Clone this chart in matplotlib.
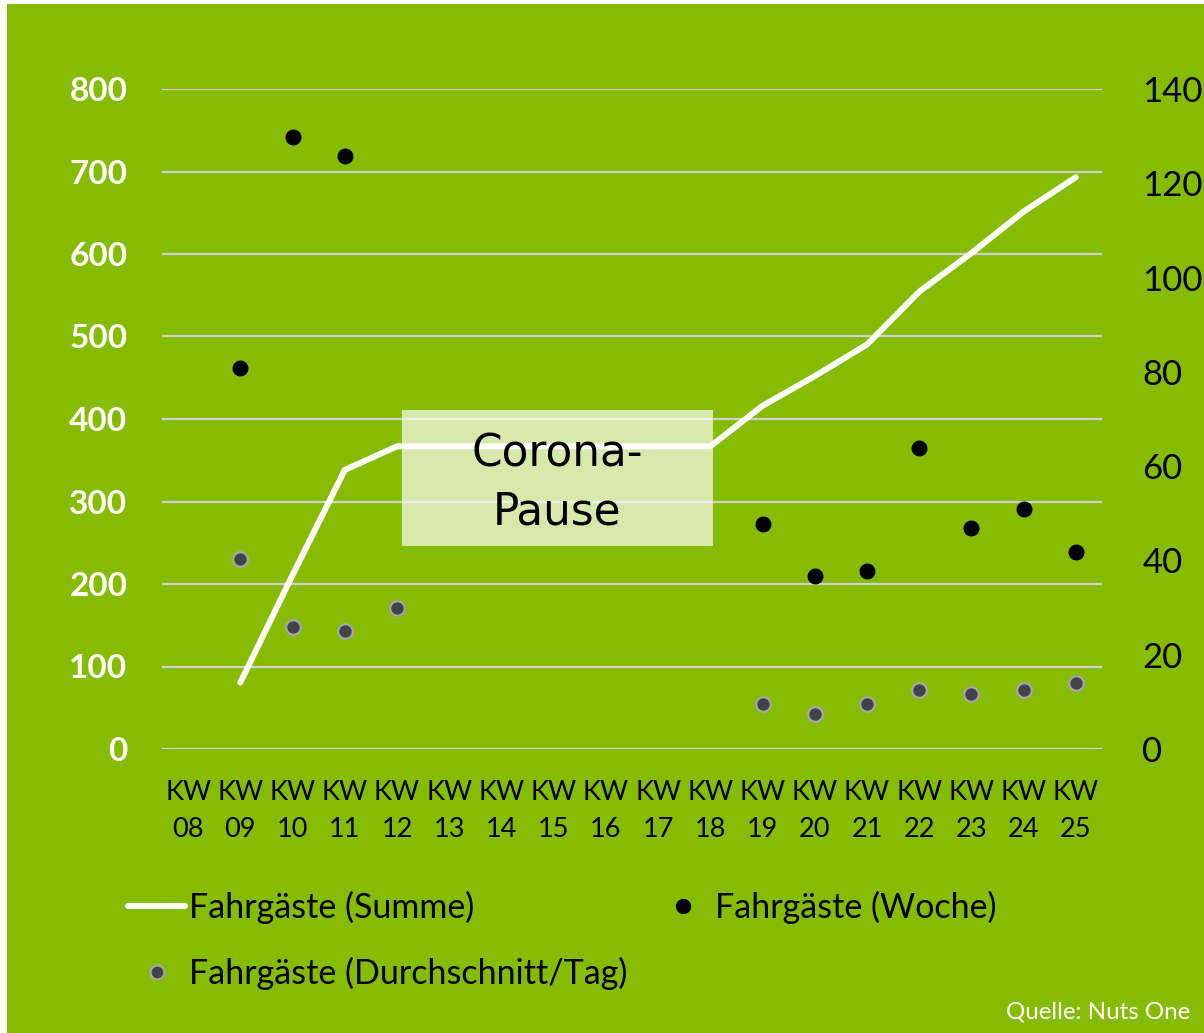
import matplotlib
matplotlib.use("Agg")
import matplotlib.pyplot as plt
from matplotlib.lines import Line2D
from matplotlib.patches import Rectangle

# === Daten ===
wochen = ["KW\n08", "KW\n09", "KW\n10", "KW\n11", "KW\n12", "KW\n13", "KW\n14", "KW\n15", "KW\n16",
          "KW\n17", "KW\n18", "KW\n19", "KW\n20", "KW\n21", "KW\n22", "KW\n23", "KW\n24", "KW\n25"]

# Fahrgäste pro Woche (linke Achse), None = kein Wert
fahrgaeste_woche = [None, 462, 742, 719, 171, None, None, None, None,
                    None, None, 273, 210, 216, 365, 268, 291, 239]

# Durchschnitt pro Tag (linke Achse)
fahrgaeste_tag = [None, 230, 148, 143, 171, None, None, None, None,
                  None, None, 54, 42, 54, 72, 67, 72, 80]

# Summe (rechte Achse)
fahrgaeste_summe = [None, 14.1, 36.9, 59.2, 64.2, 64.2, 64.2, 64.2, 64.2,
                    64.2, 64.2, 72.8, 79.1, 85.8, 97.0, 105.2, 114.0, 121.3]

links_ticks = [0, 100, 200, 300, 400, 500, 600, 700, 800]
rechts_ticks = [0, 20, 40, 60, 80, 100, 120, 140]

# === Farben ===
gruen = "#86BC00"
grau_punkt = "#404448"

plt.rcParams["font.family"] = ["Lato", "DejaVu Sans"]

fig = plt.figure(figsize=(12.04, 10.33), dpi=100, facecolor="white")
# gruener Hintergrund (links/oben schmaler weisser Rand)
fig.patches.append(Rectangle((7 / 1204, 0), 1, 1 - 4 / 1033, transform=fig.transFigure,
                             facecolor=gruen, edgecolor="none", zorder=-10))

ax = fig.add_axes([162 / 1204, 1 - 749 / 1033, 940 / 1204, 660 / 1033])
ax.set_facecolor("none")
ax2 = ax.twinx()
ax2.set_facecolor("none")

x = list(range(len(wochen)))

# Punkte Woche
xw = [i for i, v in zip(x, fahrgaeste_woche) if v is not None]
yw = [v for v in fahrgaeste_woche if v is not None]
ax.scatter(xw, yw, s=110, color="black", zorder=3, label="Fahrgäste (Woche)")

# Punkte Durchschnitt/Tag
xt = [i for i, v in zip(x, fahrgaeste_tag) if v is not None]
yt = [v for v in fahrgaeste_tag if v is not None]
ax.scatter(xt, yt, s=110, color=grau_punkt, edgecolors="#A6A6A6", linewidths=1.6, zorder=4,
           label="Fahrgäste (Durchschnitt/Tag)")

# Linie Summe
xs = [i for i, v in zip(x, fahrgaeste_summe) if v is not None]
ys = [v for v in fahrgaeste_summe if v is not None]
ax2.plot(xs, ys, color="white", lw=4.3, solid_capstyle="round", solid_joinstyle="round", zorder=3)

# Achsen
ax.set_xlim(-0.5, len(wochen) - 0.5)
ax.set_ylim(0, 800)
ax2.set_ylim(0, 140)
ax.set_yticks(links_ticks)
ax2.set_yticks(rechts_ticks)
ax.set_xticks(x)
ax.set_xticklabels(wochen, linespacing=1.6)
ax.yaxis.grid(True, color="#D0D0D0", lw=1.6)
ax.set_axisbelow(True)
for a in (ax, ax2):
    for s in a.spines.values():
        s.set_visible(False)
ax.tick_params(axis="y", length=0, pad=25, labelsize=24, labelcolor="white")
for t in ax.get_yticklabels():
    t.set_fontweight("bold")
ax.tick_params(axis="x", length=0, pad=22, labelsize=19.5, labelcolor="black")
ax2.tick_params(axis="y", length=0, pad=29, labelsize=25, labelcolor="black")

# Corona-Pause Kasten
ax2.add_patch(Rectangle((0.2553, 0.3076), 0.3309, 0.206, transform=ax2.transAxes,
                        facecolor="white", alpha=0.67, edgecolor="none", zorder=5))
ax2.text(0.4202, 0.4030, "Corona-\nPause", transform=ax2.transAxes, ha="center", va="center",
         fontsize=31.5, family="DejaVu Sans", color="black", linespacing=1.45, zorder=6)

# Legende
h_summe = Line2D([], [], color="white", lw=4.3, solid_capstyle="round")
h_tag = Line2D([], [], ls="none", marker="o", markersize=10, color=grau_punkt,
               markeredgecolor="#A6A6A6", markeredgewidth=1.6)
h_woche = Line2D([], [], ls="none", marker="o", markersize=10, color="black")
fig.legend([h_summe, h_tag, h_woche],
           ["Fahrgäste (Summe)", "Fahrgäste (Durchschnitt/Tag)", "Fahrgäste (Woche)"],
           ncol=2, loc="upper left", bbox_to_anchor=(128 / 1204, 1 - 891 / 1033),
           frameon=False, fontsize=24.5, handlelength=1.68, handletextpad=0.1,
           columnspacing=0.82, labelspacing=0.95, borderpad=0, borderaxespad=0)

fig.text(1190 / 1204, 1 - 1012 / 1033, "Quelle: Nuts One", ha="right", va="center",
         fontsize=17.4, color="white")

fig.savefig("out.png", dpi=100, facecolor=fig.get_facecolor())
